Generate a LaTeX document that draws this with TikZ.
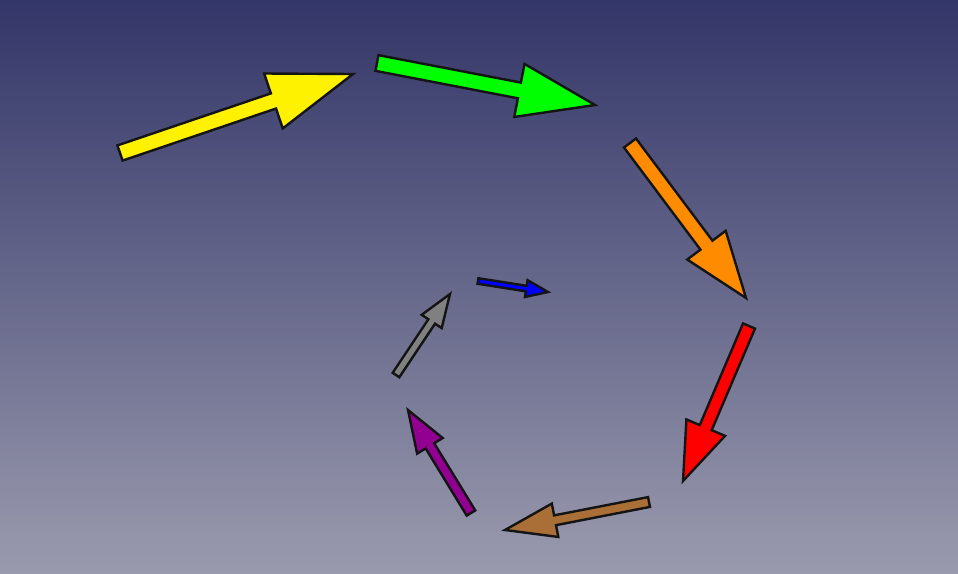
\documentclass[tikz,border=0pt]{standalone}
\usepackage{tikz}
\usetikzlibrary{calc}

\definecolor{bgtop}{RGB}{51,54,104}
\definecolor{bgbottom}{RGB}{154,154,174}
\definecolor{arrorange}{RGB}{255,140,0}
\definecolor{arrbrown}{RGB}{170,110,55}
\definecolor{arrpurple}{RGB}{145,0,145}

% #1 style, #2 tail, #3 tip, #4 shaft half width, #5 head half width, #6 head length
\newcommand{\blockarrow}[6]{%
  \coordinate (#3base) at ($(#3)!#6!(#2)$);
  \filldraw[#1] ($(#2)!#4!90:(#3)$) -- ($(#3base)!#4!90:(#3)$) -- ($(#3base)!#5!90:(#3)$)
    -- (#3) -- ($(#3base)!#5!-90:(#3)$) -- ($(#3base)!#4!-90:(#3)$) -- ($(#2)!#4!-90:(#3)$) -- cycle;
}

\begin{document}
\begin{tikzpicture}[
  x=1pt, y=-1pt,
  blk/.style={draw=black!92, line width=2.4pt, line join=miter, fill=#1}
]

\shade[top color=bgtop, bottom color=bgbottom] (0,0) rectangle (958,573);
\useasboundingbox (0,0) rectangle (958,573);

% tails and tips
\coordinate (yelT) at (120,153);  \coordinate (yelH) at (353,74);
\coordinate (grnT) at (377,63);   \coordinate (grnH) at (595,105);
\coordinate (orgT) at (630,143);  \coordinate (orgH) at (746,298);
\coordinate (redT) at (749,326);  \coordinate (redH) at (683,481);
\coordinate (brnT) at (649,502);  \coordinate (brnH) at (505,530);
\coordinate (purT) at (471,513);  \coordinate (purH) at (408,410);
\coordinate (gryT) at (396,375);  \coordinate (gryH) at (450,294);
\coordinate (bluT) at (478,281);  \coordinate (bluH) at (548,292);

\blockarrow{blk=yellow}{yelT}{yelH}{8pt}{29pt}{84pt}
\blockarrow{blk=green}{grnT}{grnH}{8pt}{27pt}{77pt}
\blockarrow{blk=arrorange}{orgT}{orgH}{7.5pt}{24pt}{66pt}
\blockarrow{blk=red}{redT}{redH}{6.5pt}{21pt}{58pt}
\blockarrow{blk=arrbrown}{brnT}{brnH}{5pt}{17pt}{51pt}
\blockarrow{blk=arrpurple}{purT}{purH}{5pt}{15pt}{42pt}
\blockarrow{blk=gray}{gryT}{gryH}{4pt}{12pt}{33pt}
\blockarrow{blk=blue}{bluT}{bluH}{2.8pt}{8.5pt}{22pt}

\end{tikzpicture}
\end{document}
